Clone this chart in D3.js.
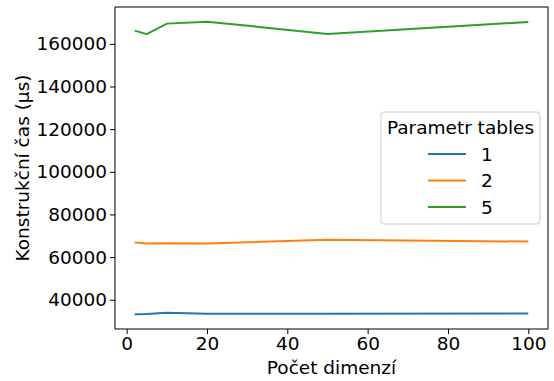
<!DOCTYPE html>
<html>
<head>
<meta charset="utf-8">
<script src="https://cdn.jsdelivr.net/npm/d3@7"></script>
<style>
  body { margin: 0; background: #fff; }
  svg text { font-family: "DejaVu Sans", sans-serif; fill: #000; }
</style>
</head>
<body>
<svg id="chart" width="554" height="381"></svg>
<script>
// data
var dims = [2, 5, 10, 20, 50, 100];
var tables1 = [33140, 33320, 33930, 33460, 33460, 33600];
var tables2 = [66820, 66350, 66540, 66350, 68080, 67290];
var tables5 = [166200, 164530, 169480, 170410, 164670, 170270];
var seriesNames = ["1", "2", "5"];
var xTicks = [0, 20, 40, 60, 80, 100];
var yTicks = [40000, 60000, 80000, 100000, 120000, 140000, 160000];

var series = [tables1, tables2, tables5];
var colors = ["#1f77b4", "#ff7f0e", "#2ca02c"];
var fs = "18.5px";

var margin = {top: 7, right: 6, bottom: 52, left: 115},
    width = 554 - margin.left - margin.right,
    height = 381 - margin.top - margin.bottom;

var svg = d3.select("#chart")
  .append("g")
    .attr("transform", "translate(" + margin.left + "," + margin.top + ")");

// matplotlib-like 5% padding
var xExt = d3.extent(dims), xPad = (xExt[1] - xExt[0]) * 0.05;
var allY = d3.merge(series);
var yExt = d3.extent(allY), yPad = (yExt[1] - yExt[0]) * 0.05;

var x = d3.scaleLinear().domain([xExt[0] - xPad, xExt[1] + xPad]).range([0, width]);
var y = d3.scaleLinear().domain([yExt[0] - yPad, yExt[1] + yPad]).range([height, 0]);

// axes
var xAxis = svg.append("g")
  .attr("transform", "translate(0," + height + ")")
  .call(d3.axisBottom(x).tickValues(xTicks).tickSize(5).tickPadding(3).tickFormat(d3.format("d")));
var yAxis = svg.append("g")
  .call(d3.axisLeft(y).tickValues(yTicks).tickSize(5).tickPadding(3).tickFormat(d3.format("d")));

[xAxis, yAxis].forEach(function(a) {
  a.select(".domain").remove();
  a.selectAll("line").attr("stroke", "#000").attr("stroke-width", 1);
  a.selectAll("text").style("font-size", fs).attr("fill", "#000");
});

// frame
svg.append("rect")
  .attr("width", width)
  .attr("height", height)
  .attr("fill", "none")
  .attr("stroke", "#000")
  .attr("stroke-width", 1);

// lines
var line = d3.line()
  .x(function(d, i) { return x(dims[i]); })
  .y(function(d) { return y(d); });

svg.selectAll(".series")
  .data(series)
  .enter().append("path")
    .attr("class", "series")
    .attr("fill", "none")
    .attr("stroke", function(d, i) { return colors[i]; })
    .attr("stroke-width", 2)
    .attr("d", line);

// axis labels
svg.append("text")
  .attr("x", width / 2)
  .attr("y", height + 45)
  .attr("text-anchor", "middle")
  .style("font-size", fs)
  .text("Počet dimenzí");

svg.append("text")
  .attr("transform", "rotate(-90)")
  .attr("x", -height / 2)
  .attr("y", -margin.left + 29)
  .attr("text-anchor", "middle")
  .style("font-size", fs)
  .text("Konstrukční čas (μs)");

// legend
var legend = svg.append("g")
  .attr("transform", "translate(" + (381 - margin.left) + "," + (112 - margin.top) + ")");

legend.append("rect")
  .attr("width", 159)
  .attr("height", 112)
  .attr("rx", 3)
  .attr("fill", "#fff")
  .attr("fill-opacity", 0.8)
  .attr("stroke", "#ccc")
  .attr("stroke-width", 1);

legend.append("text")
  .attr("x", 79.5)
  .attr("y", 22)
  .attr("text-anchor", "middle")
  .style("font-size", fs)
  .text("Parametr tables");

var item = legend.selectAll(".item")
  .data(seriesNames)
  .enter().append("g")
    .attr("class", "item")
    .attr("transform", function(d, i) { return "translate(0," + (42 + i * 26.5) + ")"; });

item.append("line")
  .attr("x1", 47).attr("x2", 85)
  .attr("stroke", function(d, i) { return colors[i]; })
  .attr("stroke-width", 2);

item.append("text")
  .attr("x", 100)
  .attr("y", 6.5)
  .style("font-size", fs)
  .text(function(d) { return d; });
</script>
</body>
</html>
